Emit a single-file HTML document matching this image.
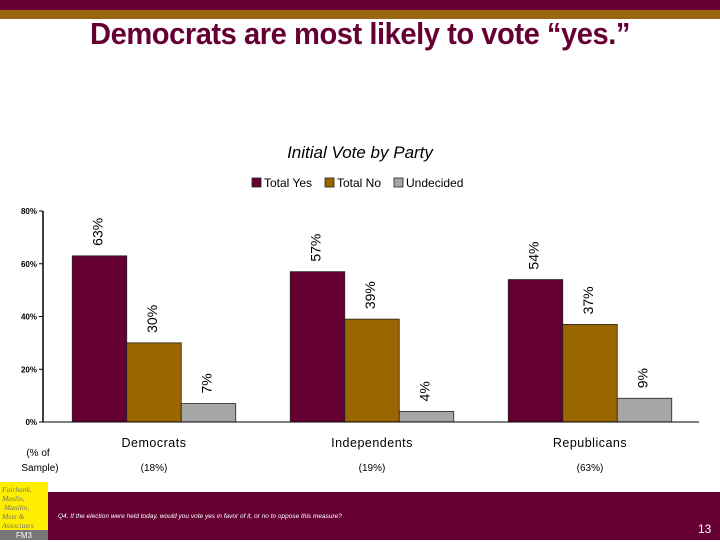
<!DOCTYPE html>
<html><head><meta charset="utf-8"><style>
body{margin:0;width:720px;height:540px;overflow:hidden;background:#fff;font-family:"Liberation Sans",sans-serif;position:relative}
.a{position:absolute}
</style></head><body>
<div class="a" style="left:0;top:0;width:720px;height:10px;background:#660033"></div>
<div class="a" style="left:0;top:10px;width:720px;height:9px;background:#996611"></div>
<div class="a" style="left:0;top:16px;width:720px;text-align:center;font-size:31px;font-weight:bold;color:#660033;letter-spacing:-0.5px;transform:scaleX(0.94)">Democrats are most likely to vote “yes.”</div>
<svg class="a" style="left:0;top:0" width="720" height="540">
<g id="g" font-family="Liberation Sans, sans-serif"></g>
</svg>
<div class="a" style="left:0;top:492px;width:720px;height:48px;background:#660033"></div>
<div class="a" style="left:58px;top:513px;font-size:6.5px;font-style:italic;color:#fff">Q4. If the election were held today, would you vote yes in favor of it, or no to oppose this measure?</div>
<div class="a" style="left:698px;top:522px;font-size:12px;color:#fff">13</div>
<div class="a" style="left:0;top:482px;width:48px;height:48px;background:#ffee00;font-family:'Liberation Serif',serif;font-style:italic;font-size:7.5px;line-height:9px;color:#776;padding:3px 2px;box-sizing:border-box">Fairbank,<br>Maslin,<br>&nbsp;Maullin,<br>Metz &amp;<br>Associates</div>
<div class="a" style="left:0;top:530px;width:48px;height:10px;background:#777;color:#fff;font-size:8px;text-align:center;line-height:12px">FM3</div>
<script>
const categories=["Democrats","Independents","Republicans"];
const shares=["(18%)","(19%)","(63%)"];
const seriesNames=["Total Yes","Total No","Undecided"];
const totalYes=[63,57,54];
const totalNo=[30,39,37];
const undecided=[7,4,9];
const yTicks=[0,20,40,60,80];
const colors=["#660033","#996600","#a6a6a6"];
const series=[totalYes,totalNo,undecided];
const g=document.getElementById('g');
const NS="http://www.w3.org/2000/svg";
const x0=45,cw=218,y0=422,yTop=211,ymax=80;
const y=v=>y0-(v/ymax)*(y0-yTop);
function mk(t,a,txt){const e=document.createElementNS(NS,t);for(const k in a)e.setAttribute(k,a[k]);if(txt!=null)e.textContent=txt;g.appendChild(e);return e;}
let e=mk('line',{x1:43,y1:y0,x2:43,y2:yTop,stroke:'#000','stroke-width':1.5});

yTicks.forEach(t=>{
 let l=mk('line',{x1:39,x2:43,y1:y(t),y2:y(t),stroke:'#000'});
 
 let tx=mk('text',{x:37,y:y(t)+3,'text-anchor':'end','font-size':8,'font-weight':'bold'},t+'%');
 
});
const bw=cw*0.25;
categories.forEach((c,i)=>{
 series.forEach((s,j)=>{
  const bx=x0+i*cw+cw*0.125+j*bw, v=s[i];
  let r=mk('rect',{x:bx,y:y(v),width:bw,height:y0-y(v),fill:colors[j],stroke:'#222','stroke-width':0.8});
  
  
  const lx=bx+bw/2+3, ly=y(v)-10;
  let t=mk('text',{x:lx,y:ly,'font-size':14,transform:`rotate(-90 ${lx} ${ly})`},v+'%');
  
 });
 let cl=mk('text',{x:x0+i*cw+cw/2,y:447,'text-anchor':'middle','font-size':12.5,'letter-spacing':0.5},c);
 
 let sl=mk('text',{x:x0+i*cw+cw/2,y:471,'text-anchor':'middle','font-size':10},shares[i]);
 
});
let xa=mk('line',{x1:43,x2:699,y1:y0,y2:y0,stroke:'#000','stroke-width':1});

let s1=mk('text',{x:38,y:456,'text-anchor':'middle','font-size':10},'(% of');

let s2=mk('text',{x:40,y:471,'text-anchor':'middle','font-size':10},'Sample)');

let ti=mk('text',{x:360,y:158,'text-anchor':'middle','font-size':17,'font-style':'italic'},'Initial Vote by Party');

const lxs=[252,325,394];
seriesNames.forEach((n,j)=>{
 let r=mk('rect',{x:lxs[j],y:178,width:9,height:9,fill:colors[j],stroke:'#222','stroke-width':0.8});
 
 let t=mk('text',{x:lxs[j]+12,y:187,'font-size':12},n);
 
});
</script>
</body></html>
